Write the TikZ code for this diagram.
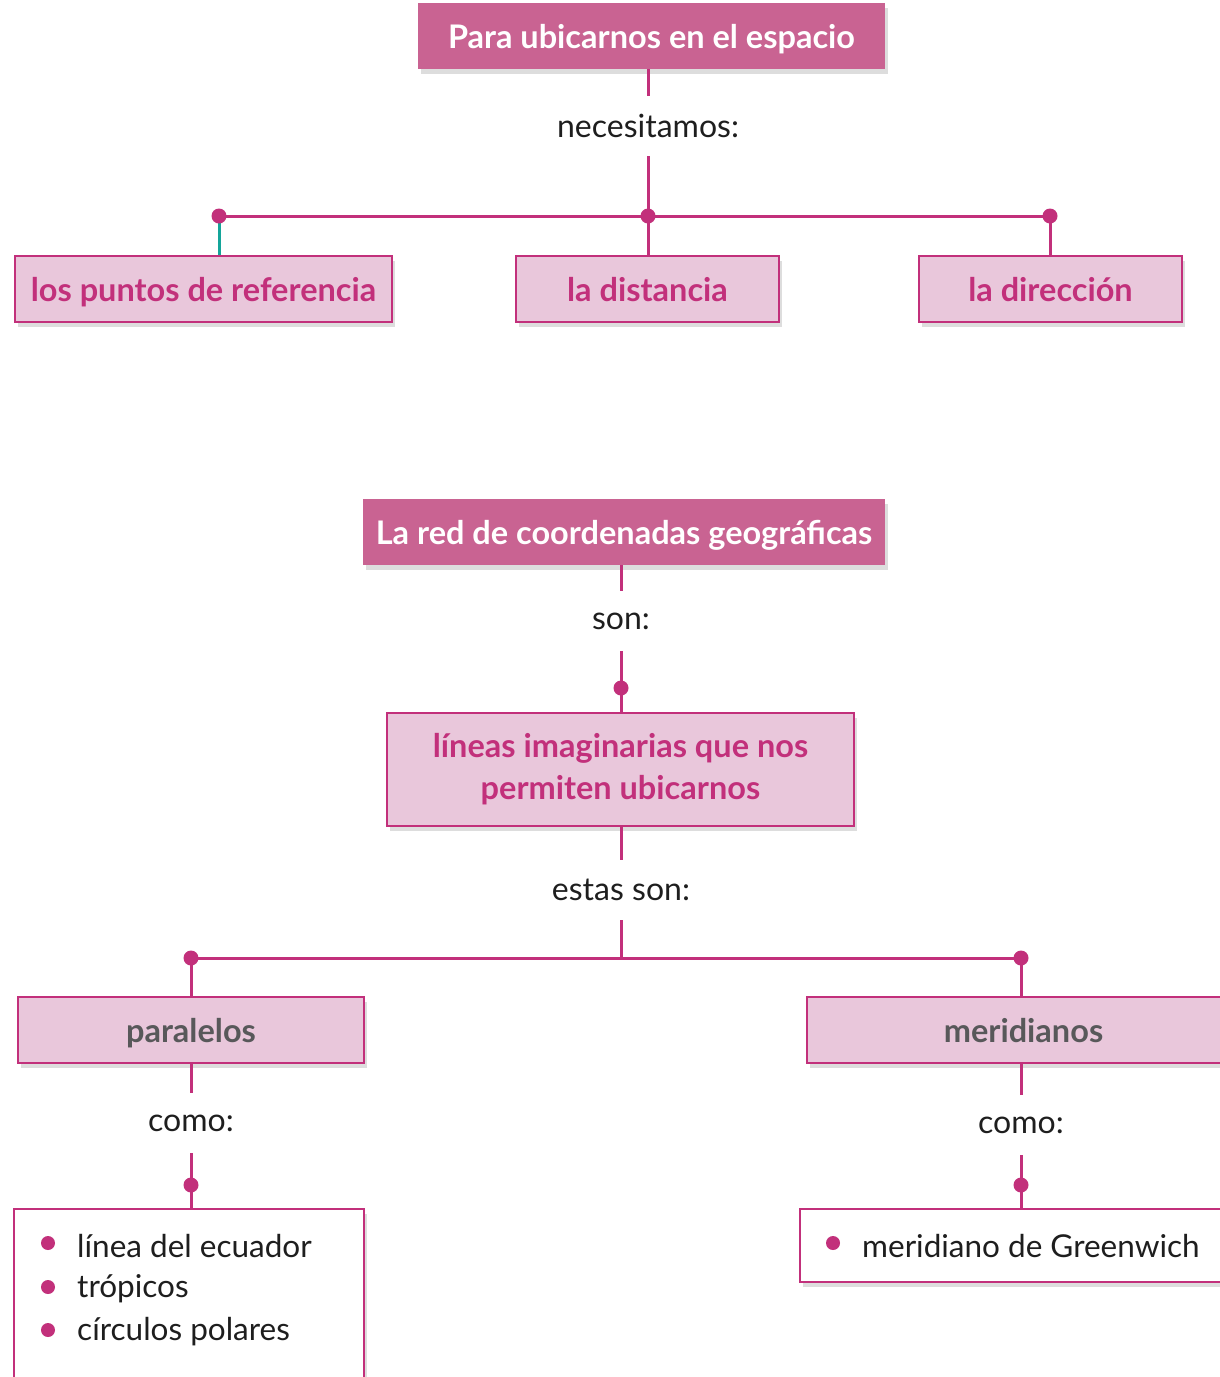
\documentclass[tikz,border=0pt]{standalone}
\usepackage{fontspec}
\setmainfont{Lato}
\newfontfamily\boxfont{Lato}
\usetikzlibrary{shadows}
\definecolor{darkpink}{HTML}{C96392}
\definecolor{linepink}{HTML}{C2307B}
\definecolor{lightpink}{HTML}{E9C7DB}
\definecolor{tealline}{HTML}{14A59A}
\definecolor{graytext}{HTML}{58585A}
\definecolor{blacktext}{HTML}{1E1E1E}
\tikzset{
  shadowed/.style={drop shadow={shadow xshift=3pt,shadow yshift=-5pt,opacity=0.22,fill=black!60}},
  boxtext/.style={text height=30pt,text depth=6pt},
  darkbox/.style={shadowed,boxtext,fill=darkpink,text=white,inner sep=0pt,minimum height=66pt,
     font=\boxfont\bfseries\fontsize{32.5}{38}\selectfont},
  lightboxml/.style={shadowed,fill=lightpink,draw=linepink,line width=2.4pt,text=linepink,inner sep=0pt,
     minimum height=66pt,font=\boxfont\bfseries\fontsize{32.5}{42}\selectfont,align=center},
  lightbox/.style={lightboxml,boxtext},
  graybox/.style={lightbox,text=graytext},
  listbox/.style={shadowed,fill=white,draw=linepink,line width=2.4pt,inner sep=0pt},
  lbl/.style={inner sep=0pt,minimum height=60pt,text=blacktext,font=\fontsize{32}{38}\selectfont},
  itemtxt/.style={inner sep=0pt,anchor=west,text=blacktext,font=\fontsize{31.5}{38}\selectfont},
  conn/.style={draw=linepink,line width=3pt},
  jdot/.style={circle,fill=linepink,inner sep=0pt,minimum size=15pt},
  bdot/.style={circle,fill=linepink,inner sep=0pt,minimum size=14pt},
}
\begin{document}
\begin{tikzpicture}[x=1pt,y=-1pt]
\useasboundingbox (0,0) rectangle (1220,1377);
\clip (0,0) rectangle (1220,1377);
% ---------- top part ----------
\node[darkbox,minimum width=467pt] (t1) at (651.5,36) {Para ubicarnos en el espacio};
\node[lbl] (n1) at (648,126) {necesitamos:};
\coordinate (d0) at (219,216);
\coordinate (dm) at (648,216);
\coordinate (d2) at (1050,216);
\node[lightbox,minimum width=377pt] (b1) at (203.5,289) {los puntos de referencia};
\node[lightbox,minimum width=263pt] (b2) at (647.5,289) {la distancia};
\node[lightbox,minimum width=263pt] (b3) at (1050.5,289) {la dirección};
\draw[conn] (n1.north |- t1.south) -- (n1.north);
\draw[conn] (n1.south) -- (dm);
\draw[conn] (d0) -- (d2);
\draw[draw=tealline,line width=3pt] (d0) -- (d0 |- b1.north);
\draw[conn] (dm) -- (dm |- b2.north);
\draw[conn] (d2) -- (d2 |- b3.north);
\node[jdot] (j0) at (d0) {};
\node[jdot] (jm) at (dm) {};
\node[jdot] (j2) at (d2) {};
% ---------- bottom part ----------
\node[darkbox,minimum width=522pt] (t2) at (624,532) {La red de coordenadas geográficas};
\node[lbl] (n2) at (621,621) {son:};
\coordinate (d3) at (621,688);
\node[lightboxml,minimum width=467pt,minimum height=113pt] (b4) at (620.5,769.5)
  {líneas imaginarias que nos\\permiten ubicarnos};
\node[lbl] (n3) at (621,890) {estas son:};
\coordinate (jc) at (621,958);
\coordinate (d4) at (191,958);
\coordinate (d5) at (1021,958);
\node[graybox,minimum width=346pt] (b5) at (191,1030) {paralelos};
\node[graybox,minimum width=433pt] (b6) at (1023.5,1030) {meridianos};
\node[lbl] (n4) at (191,1123) {como:};
\node[lbl] (n5) at (1021,1125) {como:};
\coordinate (d6) at (191,1185);
\coordinate (d7) at (1021,1185);
\node[listbox,minimum width=350pt,minimum height=200pt] (l1) at (189,1309) {};
\node[listbox,minimum width=440pt,minimum height=73pt] (l2) at (1020,1245.5) {};
\draw[conn] (n2.north |- t2.south) -- (n2.north);
\draw[conn] (n2.south) -- (d3) -- (d3 |- b4.north);
\draw[conn] (n3.north |- b4.south) -- (n3.north);
\draw[conn] (n3.south) -- (jc);
\draw[conn] (d4) -- (d5);
\draw[conn] (d4) -- (d4 |- b5.north);
\draw[conn] (d5) -- (d5 |- b6.north);
\draw[conn] (n4.north |- b5.south) -- (n4.north);
\draw[conn] (n5.north |- b6.south) -- (n5.north);
\draw[conn] (n4.south) -- (d6) -- (d6 |- l1.north);
\draw[conn] (n5.south) -- (d7) -- (d7 |- l2.north);
\node[jdot] (j3) at (d3) {};
\node[jdot] (j4) at (d4) {};
\node[jdot] (j5) at (d5) {};
\node[jdot] (j6) at (d6) {};
\node[jdot] (j7) at (d7) {};
% list items
\node[bdot] (bl1) at (48,1243) {};
\node[bdot] (bl2) at (48,1287) {};
\node[bdot] (bl3) at (48,1330) {};
\node[itemtxt] (i1) at (77,1246) {línea del ecuador};
\node[itemtxt] (i2) at (77,1289) {trópicos};
\node[itemtxt] (i3) at (77,1332) {círculos polares};
\node[bdot] (bl4) at (833,1243) {};
\node[itemtxt] (i4) at (862,1246) {meridiano de Greenwich};
\end{tikzpicture}
\end{document}
